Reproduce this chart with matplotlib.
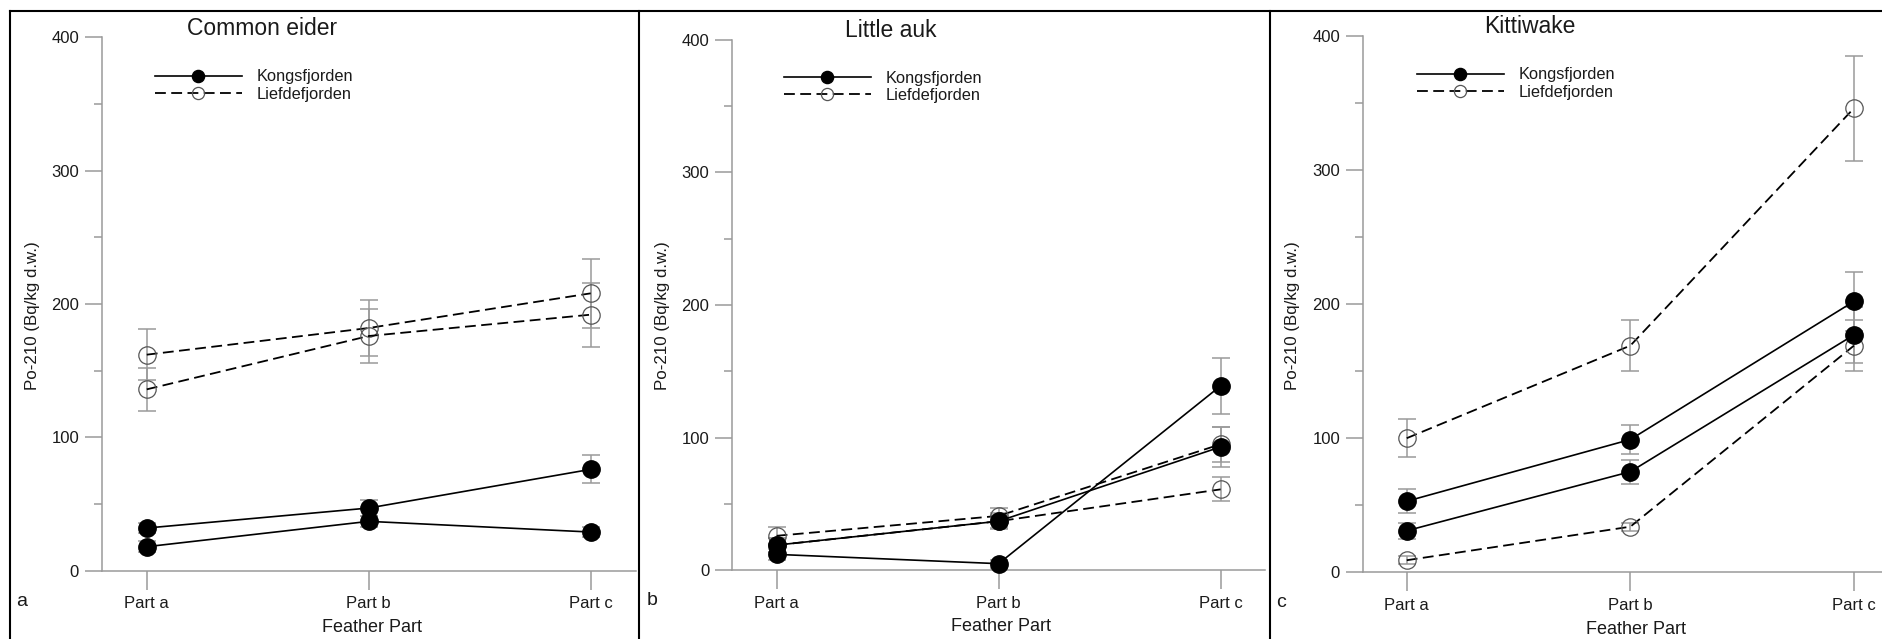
import matplotlib.pyplot as plt
from matplotlib.lines import Line2D

plt.rcParams['font.family'] = ['Liberation Sans', 'DejaVu Sans']

# data (Po-210, Bq/kg d.w.), mean and error per feather part
parts = ['Part a', 'Part b', 'Part c']
x = [0, 1, 2]

eider_kong_1 = [32, 47, 76]
eider_kong_1_err = [4, 6, 10.5]
eider_kong_2 = [18, 37, 29]
eider_kong_2_err = [4, 4, 4]
eider_lief_1 = [162, 182, 208]
eider_lief_1_err = [19, 21, 26]
eider_lief_2 = [136, 176, 192]
eider_lief_2_err = [16, 20, 24]

auk_kong_1 = [19, 37, 93]
auk_kong_1_err = [5, 6, 15]
auk_kong_2 = [12, 5, 139]
auk_kong_2_err = [4, 3, 21]
auk_lief_1 = [26, 41, 95]
auk_lief_1_err = [7, 6, 13]
auk_lief_2 = [19, 37, 61]
auk_lief_2_err = [5, 5, 9]

kitti_kong_1 = [53, 99, 202]
kitti_kong_1_err = [9, 11, 22]
kitti_kong_2 = [31, 75, 177]
kitti_kong_2_err = [6, 9, 21]
kitti_lief_1 = [100, 169, 346]
kitti_lief_1_err = [14, 19, 39]
kitti_lief_2 = [9, 34, 169]
kitti_lief_2_err = [3, 3, 19]

W, H = 1883, 639
fig = plt.figure(figsize=(W / 100, H / 100), dpi=100)

GRAY = '#9a9a9a'
TXT = '#1a1a1a'


def fx(px):
    return px / W


def fy(py):
    return 1 - py / H


def panel(x0, x1, ytop, ybot, xlim, title, tpos, lpos, ylpos, xlpos, letter, letpos,
          kong, kong_err, lief, lief_err):
    ax = fig.add_axes([fx(x0), fy(ybot), (x1 - x0) / W, (ybot - ytop) / H])
    ax.patch.set_alpha(0)
    ax.set_xlim(*xlim)
    ax.set_ylim(0, 400)
    for s in ['top', 'right']:
        ax.spines[s].set_visible(False)
    for s in ['left', 'bottom']:
        ax.spines[s].set_color(GRAY)
        ax.spines[s].set_linewidth(1.1)
    ax.set_yticks([0, 100, 200, 300, 400])
    ax.set_yticks([50, 150, 250, 350], minor=True)
    ax.set_xticks(x)
    ax.set_xticklabels(parts)
    ax.tick_params(axis='y', which='major', length=12, width=1.1, color=GRAY,
                   pad=4.3, labelsize=12, labelcolor=TXT)
    ax.tick_params(axis='y', which='minor', length=6, width=1.1, color=GRAY)
    ax.tick_params(axis='x', length=13.5, width=1.1, color=GRAY, pad=5,
                   labelsize=12, labelcolor=TXT)

    lief_line = None
    for y, e in zip(lief, lief_err):
        ax.errorbar(x, y, yerr=e, fmt='none', ecolor=GRAY, elinewidth=1.1,
                    capsize=6.3, capthick=1.1, clip_on=False, zorder=2)
        lief_line, = ax.plot(x, y, color='black', lw=1.3, ls=(0, (6, 3)),
                             marker='o', ms=12.5, mfc='none', mec='#555555',
                             mew=0.9, clip_on=False, zorder=3)
    kong_line = None
    for y, e in zip(kong, kong_err):
        ax.errorbar(x, y, yerr=e, fmt='none', ecolor=GRAY, elinewidth=1.1,
                    capsize=6.3, capthick=1.1, clip_on=False, zorder=2)
        kong_line, = ax.plot(x, y, color='black', lw=1.2, marker='o', ms=12.5,
                             mfc='black', mec='black', clip_on=False, zorder=4)

    ax.legend([kong_line, lief_line], ['Kongsfjorden', 'Liefdefjorden'],
              loc='upper left', bbox_to_anchor=(fx(lpos[0]), fy(lpos[1])),
              bbox_transform=fig.transFigure, frameon=False, borderpad=0,
              borderaxespad=0, handlelength=5.3, handletextpad=0.9,
              labelspacing=0.15, markerscale=0.7, fontsize=11.8,
              labelcolor=TXT)

    fig.text(fx(tpos[0]), fy(tpos[1]), title, ha='center', va='center',
             fontsize=16.5, color=TXT)
    fig.text(fx(ylpos[0]), fy(ylpos[1]), 'Po-210 (Bq/kg d.w.)', rotation=90,
             ha='center', va='center', fontsize=12.2, color=TXT)
    fig.text(fx(xlpos[0]), fy(xlpos[1]), 'Feather Part', ha='center',
             va='center', fontsize=13, color=TXT)
    fig.text(fx(letpos[0]), fy(letpos[1]), letter, ha='center',
             va='baseline', fontsize=14, color=TXT)
    return ax


panel(101.7, 636, 37.3, 570.7, (-0.203, 2.204), 'Common eider', (262, 28.5),
      (155, 69.5), (33, 316), (372, 628), 'a', (22, 606.5),
      [eider_kong_1, eider_kong_2], [eider_kong_1_err, eider_kong_2_err],
      [eider_lief_1, eider_lief_2], [eider_lief_1_err, eider_lief_2_err])

panel(732, 1265, 39.6, 570.3, (-0.201, 2.2), 'Little auk', (891, 30.5),
      (784, 70.5), (663, 316), (1001, 626.5), 'b', (652, 605),
      [auk_kong_1, auk_kong_2], [auk_kong_1_err, auk_kong_2_err],
      [auk_lief_1, auk_lief_2], [auk_lief_1_err, auk_lief_2_err])

panel(1362.7, 1883, 35.8, 572.3, (-0.197, 2.13), 'Kittiwake', (1530, 26.5),
      (1417, 67.5), (1293, 316), (1636, 629), 'c', (1281, 607),
      [kitti_kong_1, kitti_kong_2], [kitti_kong_1_err, kitti_kong_2_err],
      [kitti_lief_1, kitti_lief_2], [kitti_lief_1_err, kitti_lief_2_err])

# panel frames
frame = dict(transform=fig.transFigure, color='black', lw=1.5)
fig.add_artist(Line2D([fx(10), fx(W)], [fy(11), fy(11)], **frame))
for xb in [10, 639, 1270]:
    fig.add_artist(Line2D([fx(xb), fx(xb)], [fy(11), fy(H)], **frame))

fig.savefig('out.png', dpi=100)
